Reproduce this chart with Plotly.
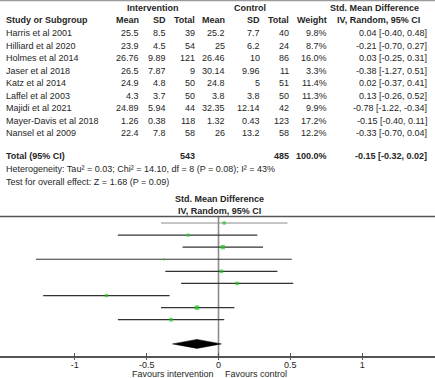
import plotly.graph_objects as go

# ---------------- data ----------------
studies = ["Harris et al 2001", "Hilliard et al 2020", "Holmes et al 2014", "Jaser et al 2018",
           "Katz et al 2014", "Laffel et al 2003", "Majidi et al 2021", "Mayer-Davis et al 2018",
           "Nansel et al 2009"]
int_mean = ["25.5", "23.9", "26.76", "26.5", "24.9", "4.3", "24.89", "1.26", "22.4"]
int_sd = ["8.5", "4.5", "9.89", "7.87", "4.8", "3.7", "5.94", "0.38", "7.8"]
int_n = [39, 54, 121, 9, 50, 50, 44, 118, 58]
ctl_mean = ["25.2", "25", "26.46", "30.14", "24.8", "3.8", "32.35", "1.32", "26"]
ctl_sd = ["7.7", "6.2", "10", "9.96", "5", "3.8", "12.14", "0.43", "13.2"]
ctl_n = [40, 24, 86, 11, 51, 50, 42, 123, 58]
weight = [9.8, 8.7, 16.0, 3.3, 11.4, 11.3, 9.9, 17.2, 12.2]
smd = [0.04, -0.21, 0.03, -0.38, 0.02, 0.13, -0.78, -0.15, -0.33]
ci_lo = [-0.40, -0.70, -0.25, -1.27, -0.37, -0.26, -1.22, -0.40, -0.70]
ci_hi = [0.48, 0.27, 0.31, 0.51, 0.41, 0.52, -0.34, 0.11, 0.04]
total_int = 543
total_ctl = 485
total_weight = 100.0
pooled = -0.15
pooled_lo = -0.32
pooled_hi = 0.02
heterogeneity = "Heterogeneity: Tau² = 0.03; Chi² = 14.10, df = 8 (P = 0.08); I² = 43%"
overall = "Test for overall effect: Z = 1.68 (P = 0.09)"
x_ticks = [-1, -0.5, 0, 0.5, 1]
x_tick_labels = ["-1", "-0.5", "0", "0.5", "1"]

# ---------------- layout helpers ----------------
W, H = 435, 378
FONT = "Liberation Sans, Arial, sans-serif"
TXT = "#262626"
FS = 9.0

def px(x):
    return x / W

def py(y):
    return 1 - y / H

annotations = []

def ann(text, x, y, anchor="right", bold=False, size=FS, color=TXT):
    annotations.append(dict(
        text=f"<b>{text}</b>" if bold else text,
        x=px(x), y=py(y), xref="paper", yref="paper",
        xanchor=anchor, yanchor="middle", showarrow=False,
        font=dict(family=FONT, size=size, color=color), borderpad=0))

# table column right edges (pixels)
c_study = 5
c_imean, c_isd, c_in = 139.5, 167, 195.5
c_cmean, c_csd, c_cn = 226, 261, 289.5
c_w, c_smd = 328, 427.5

# header
ann("Intervention", 152.5, 7.5, "center", True)
ann("Control", 250, 7.5, "center", True)
ann("Std. Mean Difference", 420, 7.5, "right", True)
ann("Study or Subgroup", c_study, 20, "left", True)
for t, x in [("Mean", c_imean), ("SD", c_isd), ("Total", c_in), ("Mean", c_cmean),
             ("SD", c_csd), ("Total", c_cn), ("Weight", c_w), ("IV, Random, 95% CI", 421)]:
    ann(t, x, 20, "right", True)

row0, rstep = 33.3, 12.5
for i, s in enumerate(studies):
    y = row0 + i * rstep
    ann(s, c_study, y, "left")
    ann(int_mean[i], c_imean, y)
    ann(int_sd[i], c_isd, y)
    ann(str(int_n[i]), c_in, y)
    ann(ctl_mean[i], c_cmean, y)
    ann(ctl_sd[i], c_csd, y)
    ann(str(ctl_n[i]), c_cn, y)
    ann(f"{weight[i]:.1f}%", c_w, y)
    ann(f"{smd[i]:.2f} [{ci_lo[i]:.2f}, {ci_hi[i]:.2f}]", c_smd, y)

ann("Total (95% CI)", c_study, 155.5, "left", True)
ann(str(total_int), c_in, 155.5, "right", True)
ann(str(total_ctl), c_cn, 155.5, "right", True)
ann(f"{total_weight:.1f}%", c_w, 155.5, "right", True)
ann(f"{pooled:.2f} [{pooled_lo:.2f}, {pooled_hi:.2f}]", c_smd, 155.5, "right", True)
ann(heterogeneity, c_study, 169, "left")
ann(overall, c_study, 181.5, "left")

# forest header
ann("Std. Mean Difference", 219, 198.5, "center", True)
ann("IV, Random, 95% CI", 219, 211, "center", True)

# ---------------- forest plot ----------------
x0_px, unit_px = 218.5, 143.7
xr = [-x0_px / unit_px, (W - x0_px) / unit_px]
f_row0, f_step = 223.0, 12.09
yr = [(H - f_row0) / f_step, (0 - f_row0) / f_step]

fig = go.Figure()
n = len(studies)
for i in range(n):
    fig.add_trace(go.Scatter(
        x=[ci_lo[i], ci_hi[i]], y=[i, i], mode="lines",
        line=dict(color="#8c8c8c" if i == 0 else "#333333", width=1.2),
        hoverinfo="skip", showlegend=False))
fig.add_trace(go.Scatter(
    x=smd, y=list(range(n)), mode="markers",
    marker=dict(symbol="square", color="#1ec81e",
                size=[1.6 + 0.17 * w for w in weight], line=dict(width=0)),
    showlegend=False, hoverinfo="skip"))

d_row = n + 1
hh = 4.5 / f_step
fig.add_trace(go.Scatter(
    x=[pooled_lo, pooled, pooled_hi, pooled, pooled_lo],
    y=[d_row, d_row - hh, d_row, d_row + hh, d_row],
    mode="lines", fill="toself", fillcolor="#000000",
    line=dict(color="#000000", width=0.5), showlegend=False, hoverinfo="skip"))

axis_y_px = 356
shapes = [
    dict(type="line", xref="paper", yref="paper", x0=0, x1=1, y0=py(0.7), y1=py(0.7),
         line=dict(color="#9a9a9a", width=1.2)),
    dict(type="line", xref="paper", yref="paper", x0=0, x1=1, y0=py(216.5), y1=py(216.5),
         line=dict(color="#555555", width=1.6)),
    dict(type="line", xref="x", yref="paper", x0=0, x1=0, y0=py(216.5), y1=py(axis_y_px),
         line=dict(color="#8c8c8c", width=1.6), layer="below"),
]

# favours labels
annotations.append(dict(text="Favours intervention", x=-0.02, y=py(374), xref="x", yref="paper",
                        xanchor="right", yanchor="middle", showarrow=False,
                        font=dict(family=FONT, size=FS, color=TXT)))
annotations.append(dict(text="Favours control", x=0.03, y=py(374), xref="x", yref="paper",
                        xanchor="left", yanchor="middle", showarrow=False,
                        font=dict(family=FONT, size=FS, color=TXT)))

axis_pos = py(axis_y_px)
fig.update_layout(
    width=W, height=H, autosize=False,
    margin=dict(l=0, r=0, t=0, b=0, pad=0),
    paper_bgcolor="white", plot_bgcolor="rgba(0,0,0,0)",
    font=dict(family=FONT, size=FS, color=TXT),
    xaxis=dict(range=xr, domain=[0, 1], anchor="free", position=axis_pos,
               showline=True, linecolor="#555555", linewidth=1.6,
               tickmode="array", tickvals=x_ticks, ticktext=x_tick_labels,
               ticks="inside", ticklen=3, tickwidth=1.2, tickcolor="#555555",
               showgrid=False, zeroline=False, fixedrange=True,
               tickfont=dict(family=FONT, size=FS, color=TXT)),
    xaxis2=dict(range=xr, domain=[0, 1], anchor="free", position=axis_pos, overlaying="x",
                showline=False, tickmode="array", tickvals=x_ticks,
                ticks="outside", ticklen=3, tickwidth=1.2, tickcolor="#555555",
                showticklabels=False, showgrid=False, zeroline=False),
    yaxis=dict(range=yr, domain=[0, 1], visible=False, fixedrange=True),
    shapes=shapes, annotations=annotations,
)
# invisible trace to activate xaxis2
fig.add_trace(go.Scatter(x=[0], y=[0], xaxis="x2", mode="markers",
                         marker=dict(opacity=0), showlegend=False, hoverinfo="skip"))

fig.write_html("out.html", config={"displayModeBar": False, "staticPlot": True},
               post_script="document.body.style.margin='0';")
